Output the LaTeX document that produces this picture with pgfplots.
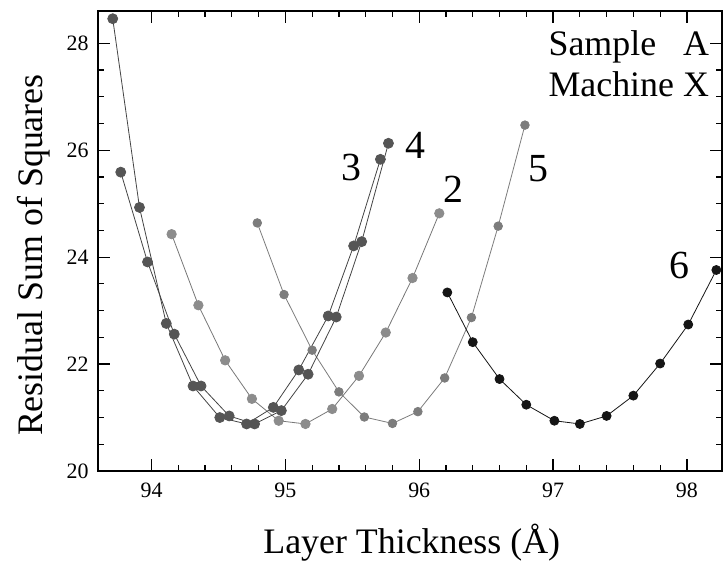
\documentclass[border=0pt]{standalone}
\usepackage{fontspec}
\setmainfont{Liberation Serif}
\usepackage{pgfplots}
\pgfplotsset{compat=1.18}
\definecolor{cdark}{HTML}{555555}
\definecolor{cmid}{HTML}{7C7C7C}
\definecolor{clight}{HTML}{8C8C8C}
\definecolor{cblack}{HTML}{151515}
\begin{document}
\begin{tikzpicture}
\useasboundingbox (-98bp,-93bp) rectangle (626bp,471bp);
\begin{axis}[
 at={(0,0)}, anchor=south west,
 scale only axis, width=623.7bp, height=460.3bp,
 xmin=93.6, xmax=98.26, ymin=20, ymax=28.61,
 xtick={94,95,96,97,98}, ytick={20,22,24,26,28},
 minor x tick num=4, minor y tick num=3,
 tick align=inside,
 major tick length=12bp, minor tick length=6bp,
 axis line style={line width=1.8bp},
 every tick/.style={line width=1.2bp, black},
 tick label style={font=\fontsize{22}{24}\selectfont},
 xticklabel style={yshift=-8bp},
 yticklabel style={xshift=-6bp},
 /pgf/number format/assume math mode=true,
 xlabel={Layer Thickness (Å)}, ylabel={Residual Sum of Squares},
 label style={font=\fontsize{36}{40}\selectfont},
 xlabel style={at={(axis description cs:0.503,-0.180)}, anchor=base},
 ylabel style={at={(axis description cs:-0.0897,0.469)}, anchor=base},
 clip=false,
]
% series 2
\addplot[color=clight!85!black, line width=0.8bp, mark=*, mark size=4.7bp, mark options={fill=clight, draw=clight}] coordinates {
(94.15,24.43) (94.35,23.10) (94.55,22.07) (94.75,21.35) (94.95,20.94) (95.15,20.88) (95.35,21.16) (95.55,21.78) (95.75,22.59) (95.95,23.61) (96.15,24.82)};
% series 5
\addplot[color=cmid, line width=0.8bp, mark=*, mark size=4.3bp, mark options={fill=cmid, draw=cmid}] coordinates {
(94.79,24.64) (94.99,23.30) (95.20,22.26) (95.40,21.48) (95.59,21.01) (95.80,20.89) (95.99,21.11) (96.19,21.74) (96.39,22.87) (96.59,24.58) (96.79,26.47)};
% series 6
\addplot[color=cblack, line width=0.8bp, mark=*, mark size=4.5bp, mark options={fill=cblack, draw=cblack}] coordinates {
(96.21,23.34) (96.40,22.41) (96.60,21.72) (96.80,21.24) (97.01,20.94) (97.20,20.88) (97.40,21.03) (97.60,21.41) (97.80,22.01) (98.01,22.74) (98.22,23.76)};
% series 3
\addplot[color=cdark!80!black, line width=0.8bp, mark=*, mark size=5bp, mark options={fill=cdark, draw=cdark}] coordinates {
(93.71,28.46) (93.91,24.93) (94.11,22.76) (94.31,21.59) (94.51,21.00) (94.71,20.88) (94.91,21.19) (95.10,21.89) (95.32,22.90) (95.51,24.21) (95.71,25.83)};
% series 4
\addplot[color=cdark!80!black, line width=0.8bp, mark=*, mark size=5bp, mark options={fill=cdark, draw=cdark}] coordinates {
(93.77,25.59) (93.97,23.91) (94.17,22.56) (94.37,21.59) (94.58,21.03) (94.77,20.88) (94.97,21.13) (95.17,21.81) (95.38,22.88) (95.57,24.29) (95.77,26.13)};
\begin{scope}[every node/.style={font=\fontsize{40}{44}\selectfont, inner sep=0pt}]
\node at (axis cs:95.492,25.67) {3};
\node at (axis cs:95.971,26.09) {4};
\node at (axis cs:96.255,25.275) {2};
\node at (axis cs:96.888,25.65) {5};
\node at (axis cs:97.947,23.853) {6};
\end{scope}
\node[anchor=base east, inner sep=0pt, font=\fontsize{36}{41.7}\selectfont] at (axis cs:98.166,27.78)
 {\begin{tabular}[t]{@{}l@{\ }r@{}}Sample & A\\ Machine & X\end{tabular}};
\end{axis}
\end{tikzpicture}
\end{document}
